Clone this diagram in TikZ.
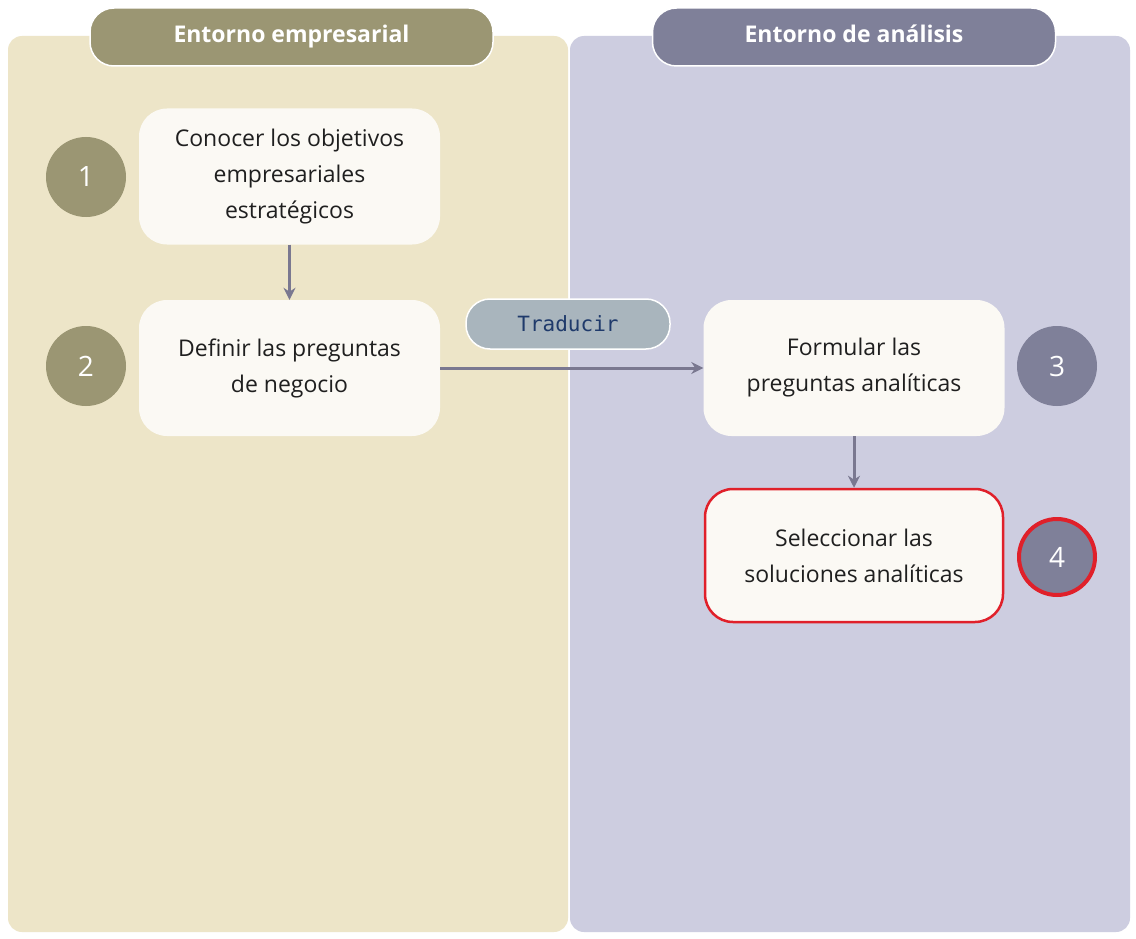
\documentclass[tikz,border=0pt]{standalone}
\usepackage{fontspec}
\setmainfont{Open Sans}
\setmonofont{DejaVu Sans Mono}
\usetikzlibrary{arrows.meta}
\definecolor{beige}{HTML}{EDE5C8}
\definecolor{lav}{HTML}{CDCDE0}
\definecolor{olive}{HTML}{9B9673}
\definecolor{slate}{HTML}{7F8099}
\definecolor{boxw}{HTML}{FBF9F4}
\definecolor{redb}{HTML}{E0202A}
\definecolor{arr}{HTML}{7A7890}
\definecolor{tag}{HTML}{A9B5BD}
\definecolor{tagtxt}{HTML}{1F3A6B}
\tikzset{
 stepbox/.style={fill=boxw,rounded corners=28pt,minimum width=301pt,minimum height=136pt,align=center,font=\fontsize{23}{36}\selectfont,text=black!88},
 numc/.style={circle,minimum size=80pt,text=white,font=\fontsize{28}{30}\selectfont},
 hdr/.style={rounded corners=24pt,draw=white,line width=1.5pt,minimum width=403pt,minimum height=58pt,text height=17pt,text depth=5pt,text=white,font=\bfseries\fontsize{23}{26}\selectfont},
 conn/.style={draw=arr,line width=3pt,-{Stealth[length=12pt,width=12pt]}}
}
\begin{document}
\begin{tikzpicture}[x=1pt,y=-1pt]
\useasboundingbox (0,0) rectangle (1136,939);
\fill[white] (0,0) rectangle (1136,939);
\fill[beige,rounded corners=14pt] (8,36) rectangle (568,932);
\fill[lav,rounded corners=14pt] (570,36) rectangle (1130,932);
\node[hdr,fill=olive] (h1) at (291.5,37) {Entorno empresarial};
\node[hdr,fill=slate] (h2) at (854,37) {Entorno de análisis};
\node[stepbox] (b1) at (289.5,176.5) {Conocer los objetivos\\empresariales\\estratégicos};
\node[stepbox] (b2) at (289.5,368) {Definir las preguntas\\de negocio};
\node[stepbox] (b3) at (854,368) {Formular las\\preguntas analíticas};
\node[stepbox,draw=redb,line width=2.5pt,minimum width=298pt,minimum height=133pt] (b4) at (854,555.5) {Seleccionar las\\soluciones analíticas};
\node[numc,fill=olive] (n1) at (86,177) {1};
\node[numc,fill=olive] (n2) at (86,366) {2};
\node[numc,fill=slate] (n3) at (1057,366) {3};
\node[numc,fill=slate,draw=redb,line width=4pt,minimum size=76pt] (n4) at (1057,557) {4};
\draw[conn] (b1) -- (b2);
\draw[conn] (b2) -- (b3);
\draw[conn] (b3) -- (b4);
\node[fill=tag,draw=white,line width=1.5pt,rounded corners=24pt,minimum width=204pt,minimum height=50pt,text=tagtxt,font=\ttfamily\fontsize{21}{24}\selectfont] (t) at (568,324) {Traducir};
\end{tikzpicture}
\end{document}
